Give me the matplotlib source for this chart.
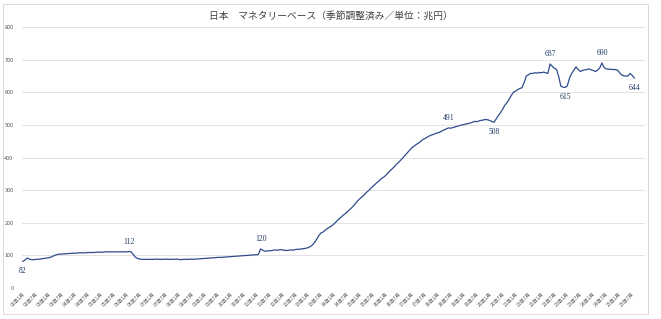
import matplotlib
matplotlib.use("Agg")
import matplotlib.pyplot as plt
from matplotlib.patches import Rectangle

plt.rcParams['font.family'] = ['Noto Sans CJK JP', 'DejaVu Sans']

title = "日本　マネタリーベース（季節調整済み／単位：兆円）"

# monthly, 2002-01 .. 2025-08 (trillion yen)
y2002 = [82, 86, 92, 89, 87, 87, 88, 88, 89, 90, 91, 92]
y2003 = [93, 95, 98, 101, 103, 104, 104, 105, 105, 106, 106, 107]
y2004 = [107, 107, 108, 108, 108, 108, 109, 109, 109, 109, 110, 110]
y2005 = [110, 110, 111, 111, 111, 111, 111, 111, 111, 111, 111, 111]
y2006 = [111, 112, 111, 104, 95, 91, 89, 88, 88, 88, 88, 88]
y2007 = [88, 88, 89, 88, 88, 88, 89, 88, 88, 88, 88, 89]
y2008 = [88, 87, 88, 88, 88, 88, 89, 88, 89, 89, 90, 90]
y2009 = [91, 91, 92, 92, 93, 93, 94, 94, 94, 95, 95, 96]
y2010 = [96, 97, 97, 98, 98, 99, 99, 100, 100, 101, 101, 102]
y2011 = [102, 103, 120, 116, 113, 114, 114, 115, 116, 117, 116, 118]
y2012 = [117, 116, 115, 116, 117, 116, 118, 119, 119, 120, 121, 122]
y2013 = [124, 127, 132, 140, 150, 161, 169, 172, 178, 183, 187, 191]
y2014 = [197, 203, 210, 216, 222, 227, 233, 239, 245, 252, 260, 268]
y2015 = [274, 280, 286, 293, 299, 306, 312, 318, 324, 330, 336, 340]
y2016 = [346, 353, 360, 366, 373, 380, 386, 393, 400, 408, 415, 423]
y2017 = [430, 435, 440, 444, 449, 455, 458, 462, 466, 469, 471, 474]
y2018 = [476, 478, 482, 485, 488, 491, 490, 492, 494, 496, 498, 500]
y2019 = [501, 503, 504, 506, 508, 511, 510, 512, 514, 515, 517, 516]
y2020 = [514, 511, 508, 518, 528, 537, 548, 560, 568, 578, 590, 600]
y2021 = [604, 608, 612, 614, 630, 650, 654, 658, 658, 660, 659, 661]
y2022 = [660, 662, 660, 658, 687, 680, 674, 670, 648, 619, 616, 615]
y2023 = [620, 644, 658, 668, 678, 670, 664, 667, 669, 670, 672, 669]
y2024 = [667, 664, 668, 675, 690, 676, 672, 671, 671, 670, 670, 669]
y2025 = [662, 654, 651, 650, 650, 658, 652, 644]

values = (y2002 + y2003 + y2004 + y2005 + y2006 + y2007 + y2008 + y2009
          + y2010 + y2011 + y2012 + y2013 + y2014 + y2015 + y2016 + y2017
          + y2018 + y2019 + y2020 + y2021 + y2022 + y2023 + y2024 + y2025)

# (month index, text, above?)
labels = [(0, "82", False), (49, "112", True), (110, "120", True),
          (197, "491", True), (218, "508", False), (244, "687", True),
          (251, "615", False), (268, "690", True), (283, "644", False)]

tick_labels = []
for yr in range(2, 26):
    tick_labels.append("%02d年1月" % yr)
    tick_labels.append("%02d年7月" % yr)

fig = plt.figure(figsize=(6.61, 3.19), dpi=100)
ax = fig.add_axes([0.033, 0.097, 0.943, 0.818])

x = list(range(len(values)))
ax.plot(x, values, color="#2f4b8c", lw=0.9)

for i, txt, above in labels:
    off = 4 if above else -4
    ax.annotate(txt, (i, values[i]), xytext=(0, off), textcoords="offset points",
                ha="center", va="bottom" if above else "top",
                fontsize=5.5, color="#1f3864", family="Liberation Serif")

ax.set_ylim(0, 800)
ax.set_yticks(range(0, 801, 100))
ax.set_xlim(-0.5, 288)
ax.set_xticks(range(0, len(tick_labels) * 6, 6))
ax.set_xticklabels(tick_labels, rotation=45, ha="right", rotation_mode="anchor",
                   fontsize=3.6, color="#595959")
ax.tick_params(axis="y", labelsize=4, colors="#595959", length=0, pad=6)
ax.tick_params(axis="x", length=0, pad=2)
ax.grid(axis="y", color="#e3e3e3", lw=0.7)
ax.set_axisbelow(True)
for s in ax.spines.values():
    s.set_visible(False)

fig.text(0.5, 0.95, title, ha="center", va="center", fontsize=7, color="#404040")
fig.patches.append(Rectangle((0.004, 0.016), 0.976, 0.972, transform=fig.transFigure,
                             fill=False, edgecolor="#d9d9d9", lw=0.7))

fig.savefig("out.png", dpi=100)
